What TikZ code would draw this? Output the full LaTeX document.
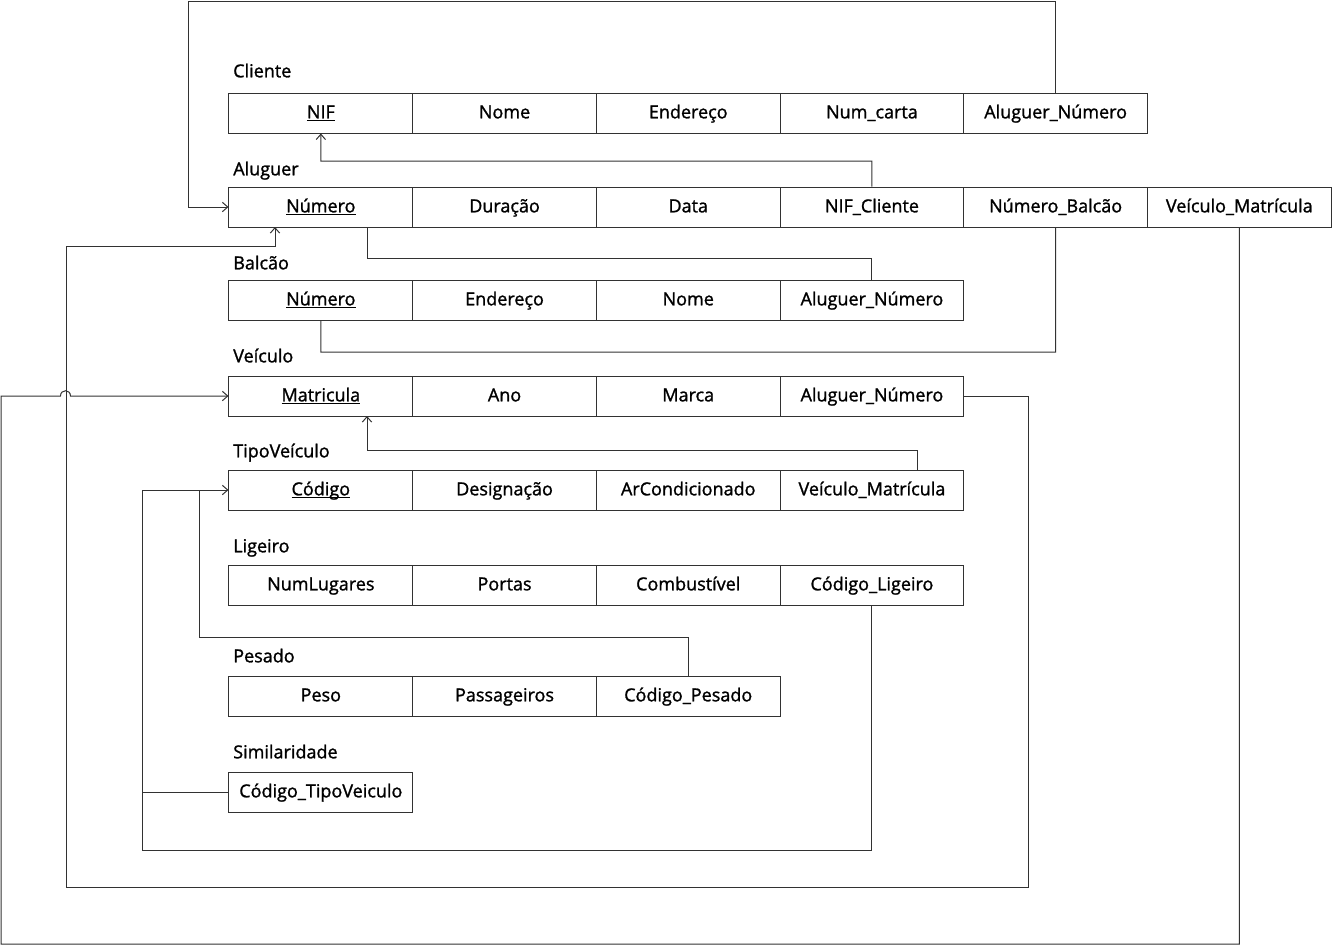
\documentclass[tikz,border=0pt]{standalone}
\usepackage{fontspec}
\setmainfont{Open Sans}[FakeBold=1.3]
\usepackage{tikz}
\usetikzlibrary{arrows.meta, positioning, calc}
\definecolor{lineclr}{RGB}{50, 50, 50}
\newcommand{\pk}[1]{\underline{\smash{#1}}}

\begin{document}
\begin{tikzpicture}[x=0.75pt, y=-0.75pt,
    cell/.style={draw=lineclr, line width=0.75pt, minimum width=137.8pt, minimum height=30pt, inner sep=0pt, text height=11pt, text depth=3pt, font=\fontsize{13.5}{16}\selectfont},
    tname/.style={anchor=west, inner sep=0pt, text height=11pt, text depth=3pt, font=\fontsize{13.5}{16}\selectfont},
    link/.style={draw=lineclr, line width=0.75pt},
    fk/.style={link, -{Straight Barb[length=4pt, width=7pt]}}]
        \useasboundingbox (0,0) rectangle (1332,946);

        % Cliente
        \node[tname] (lcli) at (233,72) {Cliente};
        \foreach \txt [count=\i] in {\pk{NIF}, Nome, Endereço, Num\_carta, Aluguer\_Número}{
          \node[cell] (cli\i) at ({229+183.7*(\i-0.5)},113) {\txt};
        }

        % Aluguer
        \node[tname] (lalu) at (233,170) {Aluguer};
        \foreach \txt [count=\i] in {\pk{Número}, Duração, Data, NIF\_Cliente, Número\_Balcão, Veículo\_Matrícula}{
          \node[cell] (alu\i) at ({229+183.7*(\i-0.5)},207) {\txt};
        }

        % Balcao
        \node[tname] (lbal) at (233,264) {Balcão};
        \foreach \txt [count=\i] in {\pk{Número}, Endereço, Nome, Aluguer\_Número}{
          \node[cell] (bal\i) at ({229+183.7*(\i-0.5)},300) {\txt};
        }

        % Veiculo
        \node[tname] (lvei) at (233,357) {Veículo};
        \foreach \txt [count=\i] in {\pk{Matricula}, Ano, Marca, Aluguer\_Número}{
          \node[cell] (vei\i) at ({229+183.7*(\i-0.5)},396) {\txt};
        }

        % TipoVeiculo
        \node[tname] (ltip) at (233,452) {TipoVeículo};
        \foreach \txt [count=\i] in {\pk{Código}, Designação, ArCondicionado, Veículo\_Matrícula}{
          \node[cell] (tip\i) at ({229+183.7*(\i-0.5)},490) {\txt};
        }

        % Ligeiro
        \node[tname] (llig) at (233,547) {Ligeiro};
        \foreach \txt [count=\i] in {NumLugares, Portas, Combustível, Código\_Ligeiro}{
          \node[cell] (lig\i) at ({229+183.7*(\i-0.5)},585) {\txt};
        }

        % Pesado
        \node[tname] (lpes) at (233,657) {Pesado};
        \foreach \txt [count=\i] in {Peso, Passageiros, Código\_Pesado}{
          \node[cell] (pes\i) at ({229+183.7*(\i-0.5)},696) {\txt};
        }

        % Similaridade
        \node[tname] (lsim) at (233,753) {Similaridade};
        \node[cell] (sim1) at (320.85,792) {Código\_TipoVeiculo};

        % Cliente -> Aluguer
        \draw[fk] (cli5.north) |- (188,1) |- (alu1.west);
        \draw[fk] (alu4.north) |- (320.85,161) -- (cli1.south);
        % Aluguer <-> Balcao
        \draw[link] (bal4.north) |- (367,258) -- (367,227);
        \draw[link] (alu5.south) |- (320.85,352) -- (bal1.south);
        % Veiculo -> Aluguer
        \draw[fk] (vei4.east) -| (1028,887) -| (66,246) -| (275,227);
        % Aluguer -> Veiculo (hop over the line above)
        \draw[fk] (alu6.south) |- (1,944) |- ($(vei1.west)+(-168,0)$)
          .. controls +(0,-7) and +(0,-7) .. ($(vei1.west)+(-158,0)$) -- (vei1.west);
        % TipoVeiculo -> Veiculo
        \draw[fk] ($(tip4.north)+(46,0)$) |- (367,450) -- (367,416);
        % Pesado, Ligeiro, Similaridade -> TipoVeiculo
        \draw[fk] (pes3.north) |- (199,637) |- (tip1.west);
        \draw[link] (lig4.south) |- (142,850) |- (199,490);
        \draw[link] (sim1.west) -- (142,792);
\end{tikzpicture}
\end{document}
